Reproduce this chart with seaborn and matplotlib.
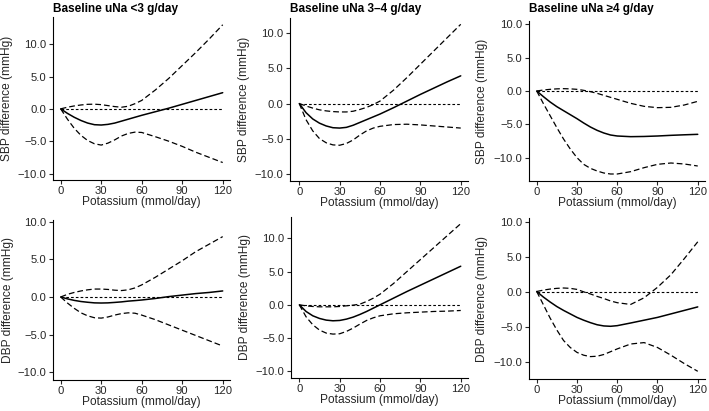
"""Spline curves of BP difference vs potassium intake, by baseline urinary sodium."""

import matplotlib

matplotlib.use("Agg")
import matplotlib.pyplot as plt
import numpy as np
import pandas as pd
import seaborn as sns
from matplotlib.ticker import FuncFormatter

# potassium grid (mmol/day)
K = [0, 5, 10, 15, 20, 25, 30, 35, 40, 45, 50, 55, 60, 70, 80, 90, 100, 110, 120]

# SBP, uNa <3 g/day
sbp_lt3_est = [0, -0.7, -1.3, -1.8, -2.2, -2.45, -2.5, -2.4, -2.2, -1.9, -1.6, -1.3, -1.0, -0.45, 0.1, 0.7, 1.3, 1.9, 2.5]
sbp_lt3_hi = [0, 0.25, 0.45, 0.6, 0.7, 0.72, 0.65, 0.5, 0.35, 0.25, 0.4, 0.8, 1.3, 2.9, 4.7, 6.7, 8.7, 10.8, 13.0]
sbp_lt3_lo = [0, -1.6, -3.0, -4.1, -4.9, -5.4, -5.6, -5.3, -4.8, -4.2, -3.8, -3.6, -3.65, -4.3, -5.0, -5.8, -6.7, -7.5, -8.3]

# SBP, uNa 3-4 g/day
sbp_34_est = [0, -1.3, -2.2, -2.8, -3.2, -3.45, -3.5, -3.4, -3.1, -2.7, -2.3, -1.9, -1.5, -0.6, 0.35, 1.3, 2.2, 3.1, 3.95]
sbp_34_hi = [0, -0.35, -0.65, -0.9, -1.05, -1.15, -1.2, -1.2, -1.1, -0.85, -0.55, -0.15, 0.35, 1.9, 3.7, 5.6, 7.5, 9.4, 11.3]
sbp_34_lo = [0, -2.3, -3.9, -5.0, -5.6, -5.9, -5.95, -5.7, -5.2, -4.5, -3.9, -3.5, -3.25, -3.0, -2.95, -3.05, -3.2, -3.35, -3.5]

# SBP, uNa >=4 g/day
sbp_ge4_est = [0, -0.85, -1.65, -2.35, -2.95, -3.55, -4.15, -4.8, -5.4, -5.9, -6.3, -6.6, -6.75, -6.85, -6.82, -6.75, -6.65, -6.57, -6.5]
sbp_ge4_hi = [0, 0.15, 0.25, 0.32, 0.35, 0.32, 0.25, 0.1, -0.1, -0.35, -0.65, -0.95, -1.25, -1.85, -2.3, -2.5, -2.45, -2.1, -1.55]
sbp_ge4_lo = [0, -1.9, -3.7, -5.5, -7.2, -8.7, -10.0, -11.0, -11.6, -12.0, -12.3, -12.45, -12.45, -12.1, -11.5, -11.0, -10.8, -10.95, -11.25]

# DBP, uNa <3 g/day
dbp_lt3_est = [0, -0.25, -0.45, -0.6, -0.7, -0.78, -0.8, -0.78, -0.72, -0.65, -0.55, -0.48, -0.4, -0.2, 0.05, 0.25, 0.45, 0.6, 0.8]
dbp_lt3_hi = [0, 0.35, 0.6, 0.8, 0.95, 1.05, 1.05, 1.0, 0.9, 0.85, 0.95, 1.2, 1.6, 2.6, 3.7, 4.8, 6.0, 7.0, 8.0]
dbp_lt3_lo = [0, -0.8, -1.5, -2.1, -2.5, -2.75, -2.8, -2.65, -2.4, -2.2, -2.1, -2.15, -2.4, -3.0, -3.7, -4.4, -5.1, -5.8, -6.5]

# DBP, uNa 3-4 g/day
dbp_34_est = [0, -1.0, -1.65, -2.05, -2.3, -2.4, -2.35, -2.15, -1.85, -1.45, -1.0, -0.5, 0.0, 1.0, 2.0, 2.95, 3.9, 4.85, 5.8]
dbp_34_hi = [0, -0.15, -0.25, -0.3, -0.3, -0.3, -0.25, -0.15, -0.05, 0.1, 0.5, 1.0, 1.6, 3.2, 5.0, 6.8, 8.6, 10.4, 12.2]
dbp_34_lo = [0, -1.8, -3.0, -3.8, -4.25, -4.4, -4.35, -4.0, -3.5, -2.9, -2.35, -1.95, -1.65, -1.35, -1.2, -1.1, -1.0, -0.95, -0.85]

# DBP, uNa >=4 g/day
dbp_ge4_est = [0, -0.8, -1.5, -2.15, -2.7, -3.2, -3.7, -4.1, -4.45, -4.75, -4.92, -4.97, -4.88, -4.5, -4.1, -3.7, -3.2, -2.7, -2.2]
dbp_ge4_hi = [0, 0.2, 0.35, 0.45, 0.5, 0.45, 0.3, -0.05, -0.35, -0.7, -1.0, -1.35, -1.6, -1.85, -0.9, 0.6, 2.4, 4.7, 7.1]
dbp_ge4_lo = [0, -1.9, -3.8, -5.5, -7.0, -8.0, -8.7, -9.1, -9.3, -9.25, -9.0, -8.6, -8.2, -7.5, -7.3, -8.0, -9.1, -10.3, -11.4]

titles = ["Baseline uNa <3 g/day", "Baseline uNa 3\u20134 g/day", "Baseline uNa \u22654 g/day"]
ylabels = ["SBP difference (mmHg)", "DBP difference (mmHg)"]
x_ticks = [0, 30, 60, 90, 120]
y_ticks = [-10, -5, 0, 5, 10]

panels = [
    (sbp_lt3_est, sbp_lt3_lo, sbp_lt3_hi),
    (sbp_34_est, sbp_34_lo, sbp_34_hi),
    (sbp_ge4_est, sbp_ge4_lo, sbp_ge4_hi),
    (dbp_lt3_est, dbp_lt3_lo, dbp_lt3_hi),
    (dbp_34_est, dbp_34_lo, dbp_34_hi),
    (dbp_ge4_est, dbp_ge4_lo, dbp_ge4_hi),
]

# axes boxes in pixels (left, top, right, bottom) and limits
W, H = 709, 411
boxes = [
    (53, 17, 230, 180), (290, 18, 468, 181), (529, 21, 705, 181),
    (53, 220, 230, 380), (291, 217, 468, 378), (529, 218, 705, 379),
]
ylims = [(-11.0, 14.2), (-11.05, 12.2), (-13.5, 10.5), (-11.0, 10.2), (-11.0, 13.2), (-12.5, 10.5)]
xlims = [(-5.7, 125.4), (-6.9, 125.4), (-5.75, 125.4), (-5.7, 125.4), (-6.2, 125.4), (-5.75, 125.4)]
# x of the y-label's right edge, pixels left of the spine
ylab_off = [40, 40, 41.5, 38.5, 40, 40.5]

sns.set_theme(style="ticks")
plt.rcParams["font.family"] = ["Liberation Sans", "DejaVu Sans"]
plt.rcParams.update({
    "axes.linewidth": 0.8,
    "xtick.major.width": 0.8,
    "ytick.major.width": 0.8,
    "xtick.major.size": 3,
    "ytick.major.size": 3,
    "xtick.major.pad": 1.5,
    "ytick.major.pad": 1.5,
    "xtick.labelsize": 8.1,
    "ytick.labelsize": 8.1,
    "axes.labelsize": 8.6,
    "text.color": "black",
    "axes.edgecolor": "black",
})

fmt = FuncFormatter(lambda v, p: f"{v:.1f}".replace("-", "\u2212"))

fig = plt.figure(figsize=(W / 100, H / 100), dpi=100)
for i, (est, lo, hi) in enumerate(panels):
    l, t, r, b = boxes[i]
    ax = fig.add_axes([l / W, 1 - b / H, (r - l) / W, (b - t) / H])
    df = pd.DataFrame({"K": K, "est": est, "lo": lo, "hi": hi})

    ax.hlines(0, df["K"].min(), df["K"].max(), color="black", lw=0.8,
              linestyles=(0, (2.4, 1.9)))
    sns.lineplot(data=df, x="K", y="hi", ax=ax, color="black", lw=0.9,
                 dashes=(4.6, 2.4), estimator=None)
    sns.lineplot(data=df, x="K", y="lo", ax=ax, color="black", lw=0.9,
                 dashes=(4.6, 2.4), estimator=None)
    sns.lineplot(data=df, x="K", y="est", ax=ax, color="black", lw=1.1,
                 estimator=None)

    ax.set_xlim(*xlims[i])
    ax.set_ylim(*ylims[i])
    ax.set_xticks(x_ticks)
    ax.set_yticks(y_ticks)
    ax.yaxis.set_major_formatter(fmt)
    sns.despine(ax=ax)
    ax.set_xlabel("Potassium (mmol/day)", labelpad=0)
    ax.set_ylabel(ylabels[i // 3])
    ax.yaxis.set_label_coords(-ylab_off[i] / (r - l), 0.5)

    if i < 3:
        fig.text(l / W, 1 - 12 / H, titles[i], fontsize=8.5, fontweight="bold",
                 ha="left", va="baseline")

fig.savefig("out.png", dpi=100)
plt.close(fig)
